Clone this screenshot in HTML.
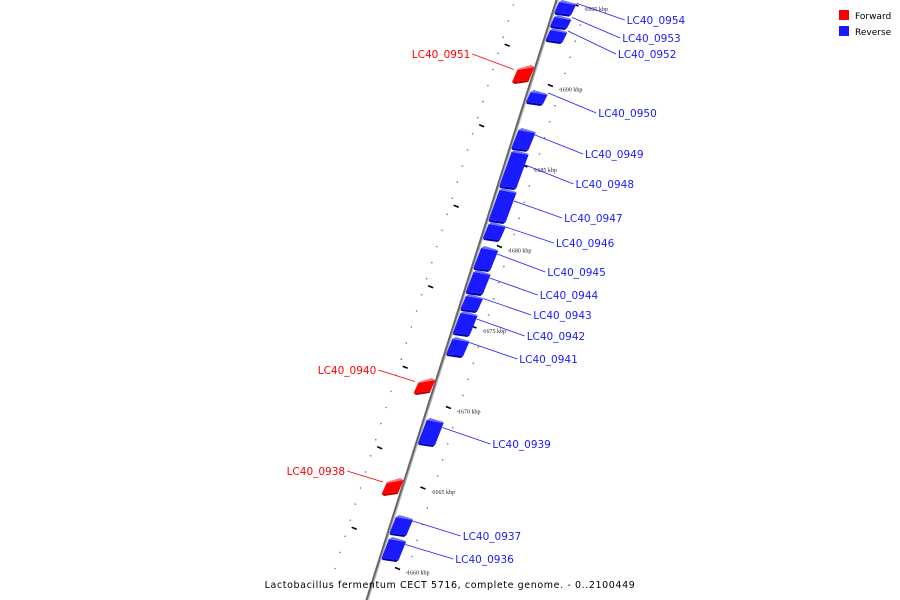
<!DOCTYPE html>
<html><head><meta charset="utf-8"><style>
html,body{margin:0;padding:0;background:#fff}
svg{display:block;font-family:"DejaVu Sans","Liberation Sans",sans-serif}
</style></head><body>
<svg id="map" width="900" height="600">
<g id="layer"></g>
<g>
<rect x="839" y="10" width="10" height="10" fill="#f00"/>
<text x="855" y="19" font-size="9">Forward</text>
<rect x="839" y="26" width="10" height="10" fill="#1a1aff"/>
<text x="855" y="35" font-size="9">Reverse</text>
</g>
<text x="450" y="588" font-size="9.5" text-anchor="middle" letter-spacing="0.6">Lactobacillus fermentum CECT 5716, complete genome. - 0..2100449</text>
</svg>
<script>
const geneNames=["LC40_0954","LC40_0953","LC40_0952","LC40_0951","LC40_0950","LC40_0949","LC40_0948","LC40_0947","LC40_0946","LC40_0945","LC40_0944","LC40_0943","LC40_0942","LC40_0941","LC40_0940","LC40_0939","LC40_0938","LC40_0937","LC40_0936"];
const geneStart=[1694.4,1693.57,1692.7,1690.22,1688.85,1686.0,1683.63,1681.52,1680.4,1678.54,1677.05,1675.99,1674.5,1673.2,1670.9,1667.67,1664.63,1662.08,1660.53];
const geneEnd=[1695.31,1694.38,1693.57,1691.27,1689.72,1687.36,1686.0,1683.63,1681.52,1680.03,1678.54,1677.05,1675.99,1674.38,1671.83,1669.35,1665.62,1663.32,1661.96];
const geneStrand=["R","R","R","F","R","R","R","R","R","R","R","R","R","R","F","R","F","R","R"];
const labelY=[20,38,54,54,113,154,184,218,243,272,295,315,336,359,370,444,471,536,559];
const majorTicks=[1695,1690,1685,1680,1675,1670,1665,1660];
const tickLabels=["1695 kbp","1690 kbp","1685 kbp","1680 kbp","1675 kbp","1670 kbp","1665 kbp","1660 kbp"];

const NS="http://www.w3.org/2000/svg";
const layer=document.getElementById('layer');
function yOf(k){return 5+(1695-k)*16.1;}
function lx(y){return 557-0.3167*y;}
function mk(t,a){const e=document.createElementNS(NS,t);for(const k in a)e.setAttribute(k,a[k]);layer.appendChild(e);return e;}

// dots
for(let k=1660;k<=1696;k++){
  const y=yOf(k);
  let d=mk('circle',{cx:lx(y)-42,cy:y,r:0.8,fill:'#777'});
  
  
  let d2=mk('circle',{cx:lx(y)+30,cy:y+4,r:0.8,fill:'#777'});
  
  
}
// minor ticks left
for(let k=1657.5;k<1696;k+=5){
  const y=yOf(k);const x=lx(y)-35;
  const t=mk('line',{x1:x-3,y1:y-1,x2:x+2,y2:y+1,stroke:'#000','stroke-width':1.5});
  
  
}
// backbone
const bb=mk('line',{x1:lx(-5),y1:-5,x2:lx(605),y2:605,stroke:'#666','stroke-width':3});


mk('line',{x1:lx(-5)+1,y1:-5,x2:lx(605)+1,y2:605,stroke:'#bbb','stroke-width':1});
// major ticks
majorTicks.forEach((k,i)=>{
  const y=yOf(k);const x=lx(y)+20;
  const t=mk('line',{x1:x-2,y1:y-1,x2:x+3,y2:y+1,stroke:'#000','stroke-width':1.5});
  
  
  const tx=mk('text',{x:x+10,y:y+6,'font-size':6,'font-family':'Liberation Serif,serif',fill:'#222'});
  tx.textContent=tickLabels[i];
  
  
});
// genes
geneNames.forEach((n,i)=>{
  const y1=yOf(geneEnd[i]),y2=yOf(geneStart[i]);
  const fwd=geneStrand[i]==='F';
  const col=fwd?'#f00':'#1a1aff',dark=fwd?'#b00':'#0000b0',light=fwd?'#ff7070':'#7070ff';
  const w=fwd?-17:17,o=fwd?-2:2;
  const a=lx(y1)+o,b=lx(y2)+o;
  const g=document.createElementNS(NS,'g');layer.appendChild(g);
  
  
  const p=(pts,f)=>{const e=document.createElementNS(NS,'polygon');e.setAttribute('points',pts);e.setAttribute('fill',f);g.appendChild(e);};
  p(`${a},${y1+2} ${a+w},${y1+5} ${b+w},${y2} ${b},${y2-2}`,col);
  p(`${b},${y2-2} ${b+w},${y2} ${b+w*0.85},${y2+2} ${b+w*0.05},${y2}`,dark);
  p(`${a},${y1+2} ${a+w*0.2},${y1} ${a+w},${y1+4} ${a+w},${y1+5}`,light);
  const my=(y1+y2)/2;
  const gx=fwd?lx(my)-20:lx(my)+22;
  const ly=labelY[i];
  const tx=mk('text',{y:ly+4,'font-size':10.5,fill:col,'text-anchor':fwd?'end':'start'});
  const labX=fwd?lx(my)-40-(my-ly)*1.2:gx+50;
  tx.setAttribute('x',labX);
  tx.textContent=n;
  
  
  const ln=mk('line',{x1:gx,y1:my-4,x2:fwd?labX+2:labX-2,y2:ly,stroke:col,'stroke-width':0.8});
  
  
});
</script>
</body></html>
